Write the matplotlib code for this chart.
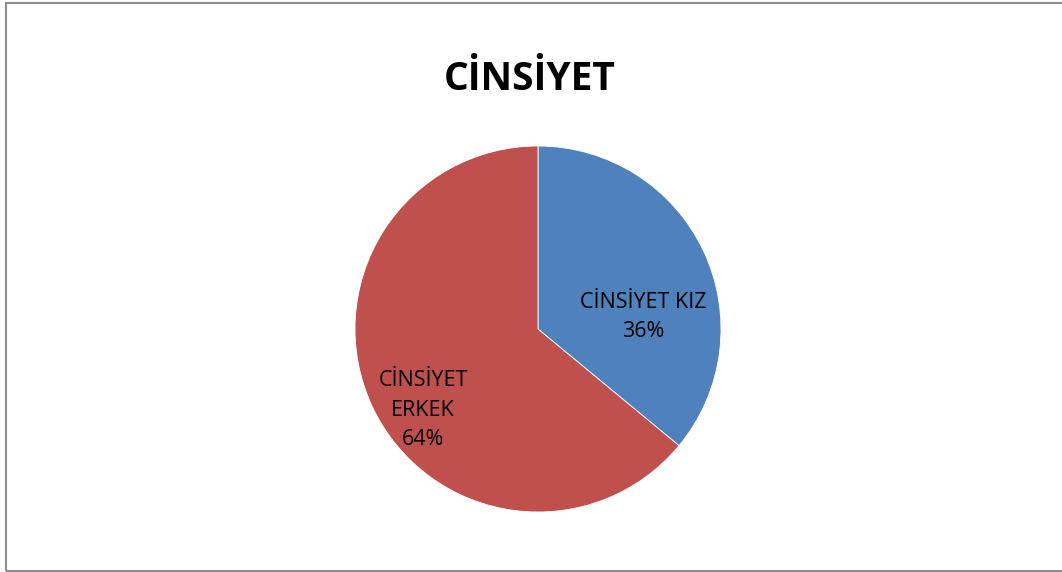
import matplotlib
matplotlib.use("Agg")
import matplotlib.pyplot as plt
from matplotlib.patches import Rectangle

plt.rcParams['font.family'] = ['Open Sans', 'DejaVu Sans']

# veriler
kategoriler = ["CİNSİYET KIZ", "CİNSİYET\nERKEK"]
yuzdeler = [36, 64]
renkler = ["#4F81BD", "#C0504D"]

W, H = 1062, 572
fig = plt.figure(figsize=(W / 100, H / 100), dpi=100)

# dis cerceve
fig.patches.append(Rectangle((5.5 / W, 1.5 / H), 1.2, (567.5) / H, transform=fig.transFigure,
                             fill=False, edgecolor="#8c8c8c", linewidth=1.5))

cx, cy, r = 538, 329, 183
ax = fig.add_axes([(cx - r) / W, (H - cy - r) / H, 2 * r / W, 2 * r / H])
wedges, _ = ax.pie(yuzdeler, colors=renkler, startangle=90, counterclock=False,
                   radius=1, wedgeprops=dict(edgecolor="white", linewidth=0.6))
ax.set_xlim(-1, 1)
ax.set_ylim(-1, 1)
ax.set_aspect("equal")
ax.axis("off")

etiket_yer = [(0.574, 0.066), (-0.628, -0.443)]
for (x, y), ad, p in zip(etiket_yer, kategoriler, yuzdeler):
    ax.text(x, y, f"{ad}\n{p}%", ha="center", va="center", fontsize=15.5,
            linespacing=1.55, color="black")

fig.text(530 / W, 1 - 80 / H, "CİNSİYET", ha="center", va="center",
         fontsize=28, fontweight="bold")

fig.savefig("out.png", dpi=100)
